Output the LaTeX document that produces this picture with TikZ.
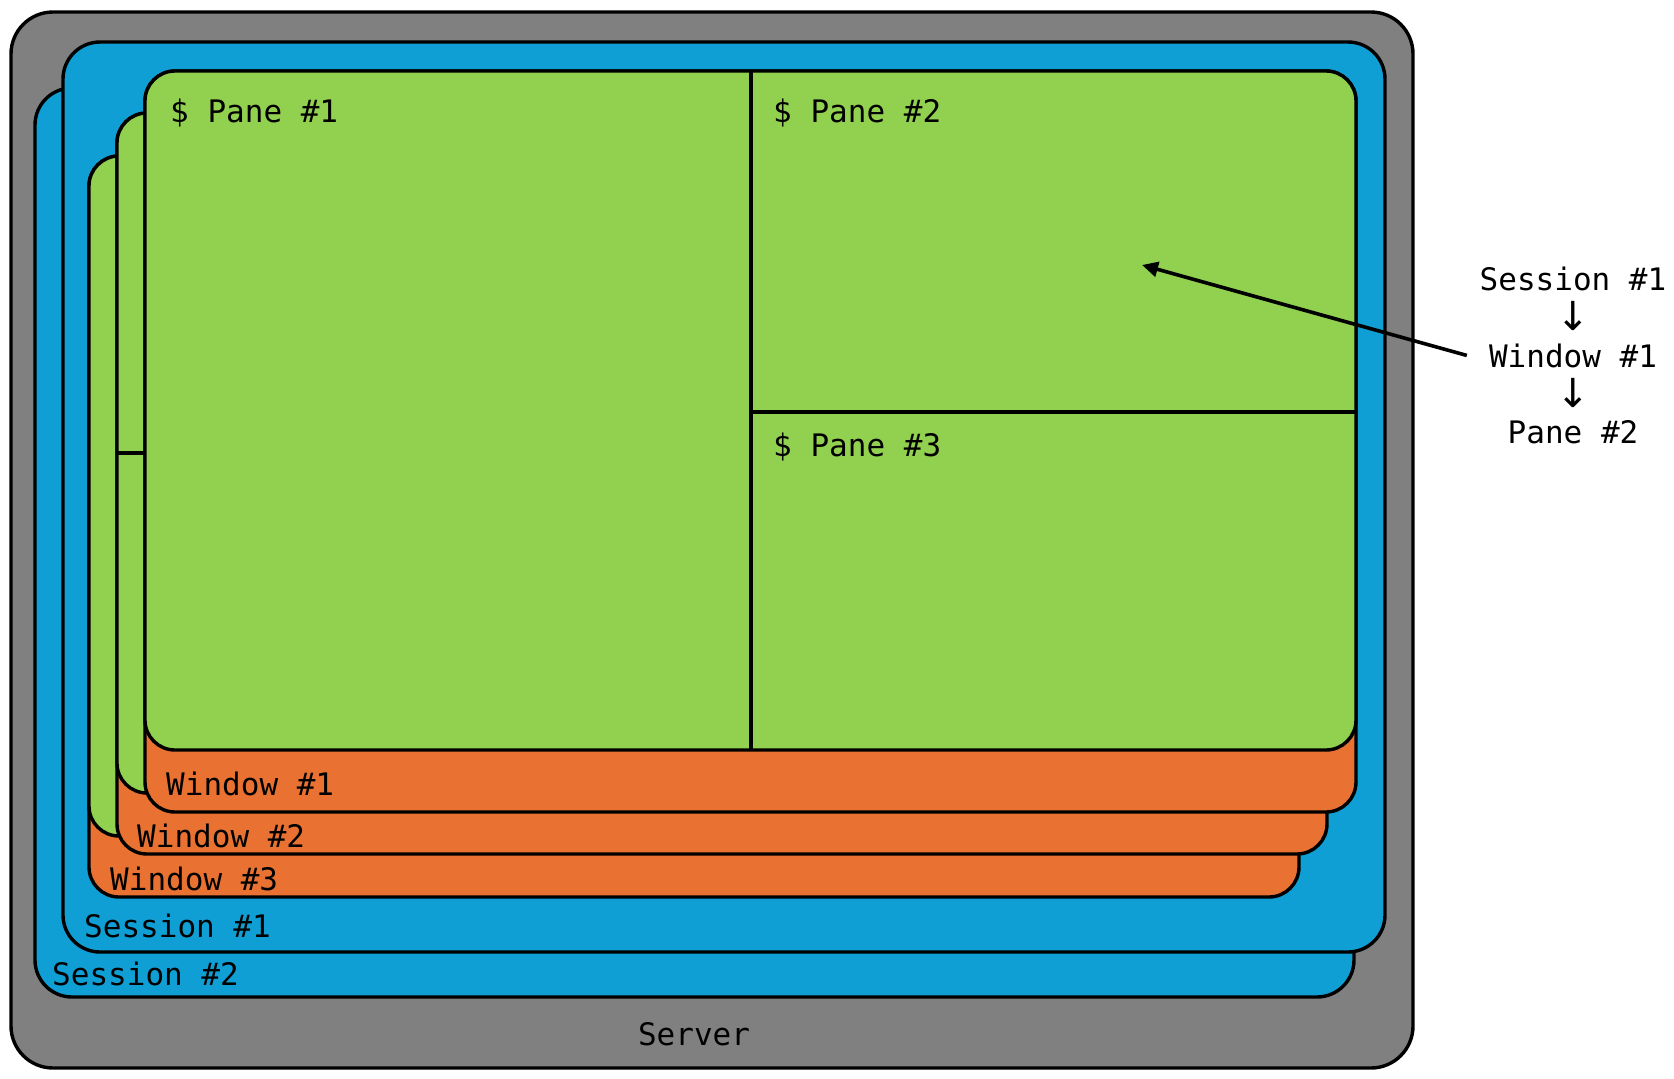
\documentclass[tikz,border=0pt]{standalone}
\usepackage{fontspec}
\setmonofont{DejaVu Sans Mono}
\newfontfamily\arrowfont{DejaVu Sans}
\usetikzlibrary{arrows.meta}
\definecolor{srvgray}{RGB}{128,128,128}
\definecolor{sesblue}{RGB}{16,159,212}
\definecolor{wingreen}{RGB}{146,208,80}
\definecolor{winorange}{RGB}{233,114,50}
\begin{document}
\begin{tikzpicture}[x=1pt,y=-1pt,
  box/.style={draw=black, line width=3.4pt, rounded corners=#1, inner sep=0pt, outer sep=0pt, anchor=north west},
  srv/.style={box=42pt, fill=srvgray},
  ses/.style={box=37pt, fill=sesblue},
  wino/.style={box=30pt, fill=winorange, minimum width=1210pt, minimum height=741pt},
  wing/.style={box=30pt, fill=wingreen, minimum width=1210pt, minimum height=680pt},
  divider/.style={draw=black, line width=3.4pt},
  lbl/.style={font=\ttfamily\fontsize{31}{37}\selectfont, inner sep=0pt, anchor=base west},
  side/.style={font=\ttfamily\fontsize{31}{37}\selectfont, inner sep=0pt, anchor=base},
  downarrow/.style={font=\arrowfont\fontsize{40}{44}\selectfont, inner sep=0pt, anchor=base},
  pointer/.style={draw=black, line width=3.6pt, -{Triangle[length=16pt,width=15pt]}}
]
\useasboundingbox (0,0) rectangle (1674,1079);
% server and sessions
\node[srv, minimum width=1402pt, minimum height=1056pt] (server) at (11,12) {};
\node[ses, minimum width=1319pt, minimum height=909pt] (s2) at (35,88) {};
\node[ses, minimum width=1322pt, minimum height=910pt] (s1) at (63,42) {};
% window 3
\node[wino] (w3o) at (89,156) {};
\node[wing] (w3g) at (89,156) {};
% window 2
\node[wino] (w2o) at (117,113) {};
\node[wing] (w2g) at (117,113) {};
\coordinate (h2) at (117,453);
\draw[divider] (h2) -- (h2 -| w2g.east);
% window 1
\node[wino, minimum width=1211pt] (w1o) at (145,71) {};
\node[wing, minimum width=1211pt, minimum height=679pt] (w1g) at (145,71) {};
\coordinate (vx) at (751,412);
\draw[divider] (vx |- w1g.north) -- (vx |- w1g.south);
\draw[divider] (vx) -- (vx -| w1g.east);
% labels
\node[lbl] (p1) at (170,122) {\$ Pane \#1};
\node[lbl] (p2) at (773,122) {\$ Pane \#2};
\node[lbl] (p3) at (773,456) {\$ Pane \#3};
\node[lbl] (lw1) at (166,795) {Window \#1};
\node[lbl] (lw2) at (137,847) {Window \#2};
\node[lbl] (lw3) at (110,890) {Window \#3};
\node[lbl] (ls1) at (84,937) {Session \#1};
\node[lbl] (ls2) at (52,985) {Session \#2};
\node[side] (lsrv) at (694,1045) {Server};
% side path
\node[side] (rs) at (1573,290) {Session \#1};
\node[downarrow] (ra1) at (1573,330) {↓};
\node[side, inner xsep=22pt] (rw) at (1573,367) {Window \#1};
\node[downarrow] (ra2) at (1573,407) {↓};
\node[side] (rp) at (1573,443) {Pane \#2};
\coordinate (tgt) at (1142,265);
\draw[pointer] (rw.west) -- (tgt);
\end{tikzpicture}
\end{document}
